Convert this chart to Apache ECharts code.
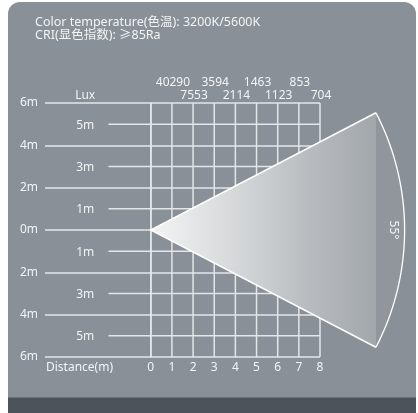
<!DOCTYPE html>
<html>
<head>
<meta charset="utf-8">
<script src="https://cdn.jsdelivr.net/npm/echarts@6/dist/echarts.min.js"></script>
<style>html,body{margin:0;padding:0;background:#fff;}#c{width:418px;height:413px;}</style>
</head>
<body>
<div id="c"></div>
<script>
// ---- data ----
const titleLines = ['Color temperature(色温): 3200K/5600K', 'CRI(显色指数): ≥85Ra'];
const distances = [0, 1, 2, 3, 4, 5, 6, 7, 8];
const luxDistances = [1, 2, 3, 4, 5, 6, 7, 8];
const luxValues = [40290, 7553, 3594, 2114, 1463, 1123, 853, 704];
const heightTicks = [-6, -4, -2, 0, 2, 4, 6];
const minorHeights = [5, 3, 1, -1, -3, -5];
const beamAngle = 55;      // degrees
const beamRange = 12;      // metres (arc radius)

const FONT = 'Noto Sans, Noto Sans CJK SC, sans-serif';
const TXT = '#f3f4f5';
const LINE = '#e4e6e8';

const chart = echarts.init(document.getElementById('c'), null, {renderer: 'canvas'});

const option = {
  backgroundColor: '#ffffff',
  animation: false,
  graphic: [
    {type: 'rect', z: -100, shape: {x: 8, y: 2, width: 408, height: 440, r: 12}, style: {fill: '#899097'}},
    {type: 'rect', z: -99, shape: {x: 8, y: 397.5, width: 408, height: 30}, style: {fill: '#4c535a'}},
    {type: 'text', z: 10, left: 35, top: 16, style: {text: titleLines[0], fill: TXT, font: '12.5px ' + FONT}},
    {type: 'text', z: 10, left: 35, top: 29.5, style: {text: titleLines[1], fill: TXT, font: '12.5px ' + FONT}}
  ],
  grid: {left: 45, right: 98, top: 103, bottom: 56, containLabel: false},
  xAxis: {
    type: 'value', min: -5, max: 8, interval: 1,
    axisLine: {show: false}, axisTick: {show: false}, splitLine: {show: false},
    axisLabel: {
      color: TXT, fontSize: 12, fontFamily: FONT, margin: 5,
      formatter: v => (distances.indexOf(v) >= 0 ? String(v) : '')
    }
  },
  yAxis: {
    type: 'value', min: -6, max: 6, interval: 2,
    axisLine: {show: true, lineStyle: {color: LINE, width: 1.5}},
    axisTick: {show: false},
    splitLine: {show: true, lineStyle: {color: LINE, width: 1.5}},
    axisLabel: {color: TXT, fontSize: 12, fontFamily: FONT, margin: 7,
      formatter: v => (heightTicks.indexOf(v) >= 0 ? Math.abs(v) + 'm' : '')}
  },
  series: [
    {
      type: 'custom', name: 'verticals', z: 3, silent: true,
      data: distances.map(d => [d]),
      renderItem: (params, api) => {
        const d = api.value(0);
        const p1 = api.coord([d, -6]), p2 = api.coord([d, 6]);
        return {type: 'line', shape: {x1: p1[0], y1: p1[1], x2: p2[0], y2: p2[1]},
          style: {stroke: LINE, lineWidth: 1.5}};
      }
    },
    {
      type: 'custom', name: 'minor', z: 3, silent: true,
      data: minorHeights.map(h => [h]),
      renderItem: (params, api) => {
        const h = api.value(0);
        const p1 = api.coord([-2, h]), p2 = api.coord([8, h]);
        const pt = api.coord([-3.1, h]);
        return {type: 'group', children: [
          {type: 'line', shape: {x1: p1[0], y1: p1[1], x2: p2[0], y2: p2[1]},
            style: {stroke: LINE, lineWidth: 1.5}},
          {type: 'text', x: pt[0], y: pt[1] + 1,
            style: {text: Math.abs(h) + 'm', fill: TXT, font: '12px ' + FONT, align: 'center', verticalAlign: 'middle'}}
        ]};
      }
    },
    {
      type: 'custom', name: 'lux', z: 4, silent: true,
      data: luxValues.map((v, i) => [luxDistances[i], v, i]),
      renderItem: (params, api) => {
        const d = api.value(0), v = api.value(1), i = api.value(2);
        const p = api.coord([d, 6]);
        const dy = (i % 2 === 0) ? -20 : -7.5;
        const children = [{type: 'text', x: p[0] + 1, y: p[1] + dy,
          style: {text: String(v), fill: TXT, font: '12px ' + FONT, align: 'center', verticalAlign: 'middle'}}];
        if (i === 0) {
          const q = api.coord([-3.1, 6]);
          children.push({type: 'text', x: q[0], y: q[1] - 7.5,
            style: {text: 'Lux', fill: TXT, font: '12px ' + FONT, align: 'center', verticalAlign: 'middle'}});
          const r = api.coord([-5, -6]);
          children.push({type: 'text', x: r[0] + 1, y: r[1] + 11,
            style: {text: 'Distance(m)', fill: TXT, font: '12px ' + FONT, align: 'left', verticalAlign: 'middle'}});
        }
        return {type: 'group', children};
      }
    },
    {
      type: 'custom', name: 'beam', z: 5, silent: true, clip: false,
      data: [[beamAngle, beamRange]],
      renderItem: (params, api) => {
        const ang = api.value(0), R = api.value(1);
        const half = ang / 2 * Math.PI / 180;
        const apex = api.coord([0, 0]);
        const top = api.coord([R * Math.cos(half), R * Math.sin(half)]);
        const bot = api.coord([R * Math.cos(half), -R * Math.sin(half)]);
        const arc = [];
        const N = 40;
        for (let k = 0; k <= N; k++) {
          const a = half - (2 * half) * k / N;
          arc.push(api.coord([R * Math.cos(a), R * Math.sin(a)]));
        }
        const mid = api.coord([R, 0]);
        return {type: 'group', children: [
          {type: 'polygon', shape: {points: arc}, style: {fill: '#91969c'}},
          {type: 'polygon', shape: {points: [apex, top, bot]},
            style: {fill: new echarts.graphic.LinearGradient(0, 0, 1, 0, [
              {offset: 0, color: '#f4f4f4'},
              {offset: 0.45, color: '#cfd2d4'},
              {offset: 0.7, color: '#b8bcc0'},
              {offset: 1, color: '#a2a7ac'}
            ])}},
          {type: 'polyline', shape: {points: [top, apex, bot]}, style: {stroke: '#ffffff', lineWidth: 1.5, fill: null}},
          {type: 'polyline', shape: {points: arc}, style: {stroke: '#ffffff', lineWidth: 1.3, fill: null}},
          {type: 'text', x: mid[0] - 11, y: mid[1], rotation: -Math.PI / 2,
            style: {text: ang + '°', fill: TXT, font: '12px ' + FONT, align: 'center', verticalAlign: 'middle'}}
        ]};
      }
    }
  ]
};
chart.setOption(option);
</script>
</body>
</html>
